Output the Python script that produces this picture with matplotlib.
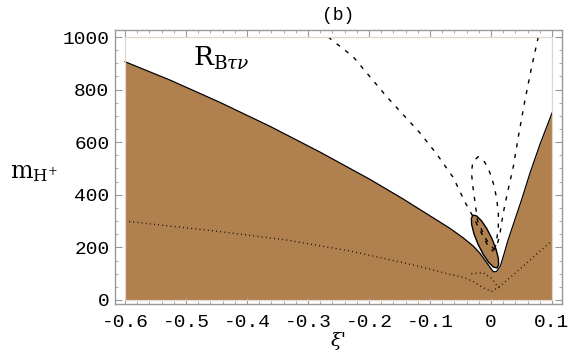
import matplotlib
matplotlib.use("Agg")
import matplotlib.pyplot as plt
from matplotlib.patches import Rectangle

plt.rcParams['mathtext.fontset'] = 'dejavuserif'

# main boundary of the shaded region (xi', m_H+)
main_x = [-0.6, -0.526, -0.444, -0.362, -0.280, -0.198, -0.144, -0.100, -0.067, -0.046,
          -0.029, -0.018, -0.0098, -0.0016, 0.004, 0.009, 0.0155, 0.0205, 0.028, 0.039,
          0.050, 0.064, 0.080, 0.1]
main_y = [906, 836, 751, 660, 562, 458, 384, 320, 272, 237,
          205, 177, 151, 124, 107, 108, 130, 168, 228, 304,
          380, 483, 590, 711]

# small shaded island near xi' = 0
isl_x = [0.00975, 0.01256, 0.01193, 0.00802, 0.00136, -0.0070, -0.01577, -0.02364,
         -0.02943, -0.03223, -0.03161, -0.02769, -0.02103, -0.01267, -0.0039, 0.00397]
isl_y = [122.0, 134.1, 159.7, 194.8, 234.2, 271.8, 301.7, 319.7,
         322.9, 310.7, 285.2, 250.0, 210.7, 173.1, 143.1, 125.1]

# dashed contours
d1_x = [-0.267, -0.226, -0.171, -0.116, -0.089, -0.062, -0.043, -0.034, -0.021, -0.0126, -0.0044, 0.004]
d1_y = [1000, 925, 773, 634, 555, 466, 374, 336, 279, 241, 203, 185]
d2_x = [0.006, -0.008, -0.022, -0.026, -0.029, -0.032, -0.030, -0.021, -0.012, -0.0044,
        0.0038, 0.0093, 0.012, 0.012, 0.0093, 0.006]
d2_y = [190, 230, 300, 368, 418, 482, 525, 545, 530, 501,
        444, 387, 330, 279, 228, 190]
d3_x = [0.0775, 0.0667, 0.0557, 0.0448, 0.0366, 0.0268, 0.020, 0.0148, 0.0082]
d3_y = [1000, 887, 760, 621, 507, 406, 330, 254, 190]

# dotted contours
p1_x = [-0.6, -0.444, -0.335, -0.226, -0.116, -0.067, -0.045, -0.029, -0.0126, 0.001,
        0.010, 0.020, 0.0366, 0.0585, 0.075, 0.1]
p1_y = [300, 260, 228, 184, 127, 97, 86, 70, 46, 33,
        45, 63, 96, 140, 175, 226]
p2_x = [-0.032, -0.013, 0.001, 0.009, 0.014]
p2_y = [100, 104, 82, 57, 45]

xticks = [-0.6, -0.5, -0.4, -0.3, -0.2, -0.1, 0.0, 0.1]
xlabels = ["-0.6", "-0.5", "-0.4", "-0.3", "-0.2", "-0.1", "0", "0.1"]
yticks = [0, 200, 400, 600, 800, 1000]

brown = '#b1804f'
mono = 'Liberation Mono'

fig = plt.figure(figsize=(5.76, 3.56), dpi=100)
ax = fig.add_axes([0.1997, 0.1461, 0.776, 0.7696])

clip = Rectangle((-0.6, 0), 0.7, 1000, transform=ax.transData)
ax.fill_between(main_x, 0, main_y, color=brown, lw=0, zorder=1)
ax.fill(isl_x, isl_y, facecolor=brown, edgecolor='black', lw=1.0, zorder=2)
ax.plot(main_x, main_y, color='black', lw=0.9, zorder=3)
for xs, ys in [(d1_x, d1_y), (d2_x, d2_y), (d3_x, d3_y)]:
    ln, = ax.plot(xs, ys, color='black', lw=1.0, ls=(0, (3.0, 4.8)), zorder=4)
    ln.set_clip_path(clip)
for xs, ys in [(p1_x, p1_y), (p2_x, p2_y)]:
    ln, = ax.plot(xs, ys, color='black', lw=1.0, ls=(0, (0.6, 2.4)), zorder=4)
    ln.set_clip_path(clip)
ax.add_patch(Rectangle((-0.6, 0), 0.7, 1000, fill=False, edgecolor='#e3d6ca', lw=0.9, zorder=5))

ax.set_xlim(-0.6164, 0.1164)
ax.set_ylim(-15.2, 1026.6)
ax.set_xticks(xticks)
ax.set_xticklabels(xlabels)
ax.set_yticks(yticks)
ax.set_xticks([-0.6 + 0.02 * i for i in range(36)], minor=True)
ax.set_yticks([50 * i for i in range(21)], minor=True)
ax.tick_params(which='both', direction='in', top=True, right=True, color='#999999')
ax.tick_params(which='major', length=5, width=0.8)
ax.tick_params(which='minor', length=2.5, width=0.6)
ax.tick_params(axis='x', pad=7, labelsize=14)
ax.tick_params(axis='y', pad=4, labelsize=14)
for lab in ax.get_xticklabels() + ax.get_yticklabels():
    lab.set_family(mono)
for s in ax.spines.values():
    s.set_color('#999999')
    s.set_linewidth(1.0)

ax.text(-0.488, 893, r'$\mathrm{R}_{\mathrm{B}\tau\nu}$', fontsize=19, ha='left', va='baseline')
ax.set_title('(b)', family=mono, fontsize=13, pad=7)
ax.set_xlabel("ξ'", family='DejaVu Serif', style='italic', fontsize=14, labelpad=1)
fig.text(0.017, 0.517, r'$\mathrm{m}_{\mathrm{H}^{+}}$', fontsize=17, ha='left', va='center')

fig.savefig('out.png', dpi=100)
